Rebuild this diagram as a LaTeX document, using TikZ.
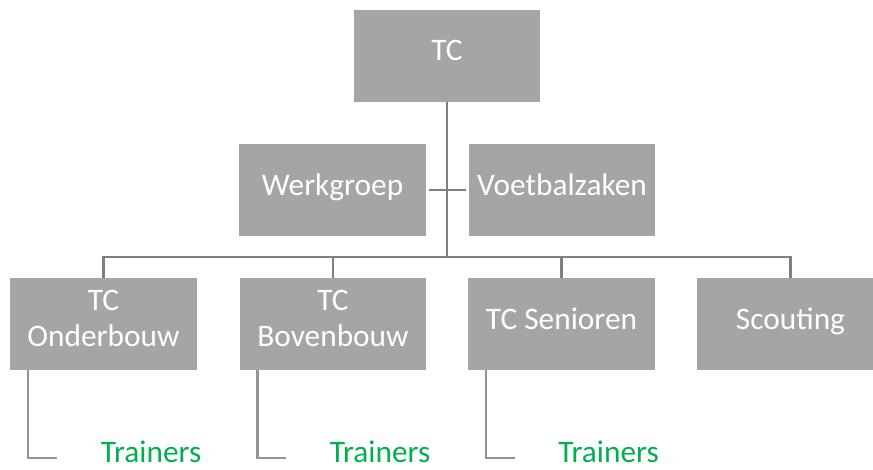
\documentclass[tikz,border=0pt]{standalone}
\usepackage{fontspec}
\setmainfont{Carlito}
\definecolor{boxgray}{HTML}{A5A5A5}
\definecolor{linegray}{HTML}{7F7F7F}
\definecolor{traingreen}{HTML}{00B050}
\begin{document}
\begin{tikzpicture}[x=0.75pt,y=-0.75pt,
  box/.style={fill=boxgray,text=white,minimum width=140pt,minimum height=69pt,inner sep=0pt,align=center,
    text height=15pt,text depth=7.5pt,font=\fontsize{23.5}{27}\selectfont},
  twoline/.style={box,text height=40pt,text depth=7pt},
  trainer/.style={text=traingreen,minimum width=140pt,inner sep=0pt,font=\fontsize{23.5}{26}\selectfont},
  conn/.style={draw=linegray,line width=2pt},
  tline/.style={draw=boxgray!90!black,line width=2pt}]
\useasboundingbox (0,0) rectangle (873,469);
\clip (0,0) rectangle (873,469);
\node[box] (tc) at (447,55.5) {TC};
\node[box] (werk) at (332.5,190) {Werkgroep};
\node[box] (voet) at (562,190) {Voetbalzaken};
\node[twoline] (onder) at (103.5,324) {TC\\Onderbouw};
\node[twoline] (boven) at (333,324) {TC\\Bovenbouw};
\node[box] (senior) at (561.5,324) {TC Senioren};
\node[box] (scout) at (790.5,324) {Scouting};
\coordinate (bus) at (447,257);
\draw[conn] (tc) -- (bus);
\draw[conn,shorten <=2pt,shorten >=2pt] (werk) -- (voet);
\foreach \n in {onder,boven,senior,scout}
  \draw[conn] (\n.north) |- (bus);
% trainers under the first three
\node[trainer] (tr1) at (151,452) {Trainers};
\node[trainer] (tr2) at (380,452) {Trainers};
\node[trainer] (tr3) at (608.5,452) {Trainers};
\draw[tline] ([xshift=13.5pt]onder.south west) |- ([yshift=-4.5pt]tr1.west);
\draw[tline] ([xshift=13.5pt]boven.south west) |- ([yshift=-4.5pt]tr2.west);
\draw[tline] ([xshift=13.5pt]senior.south west) |- ([yshift=-4.5pt]tr3.west);
\end{tikzpicture}
\end{document}
